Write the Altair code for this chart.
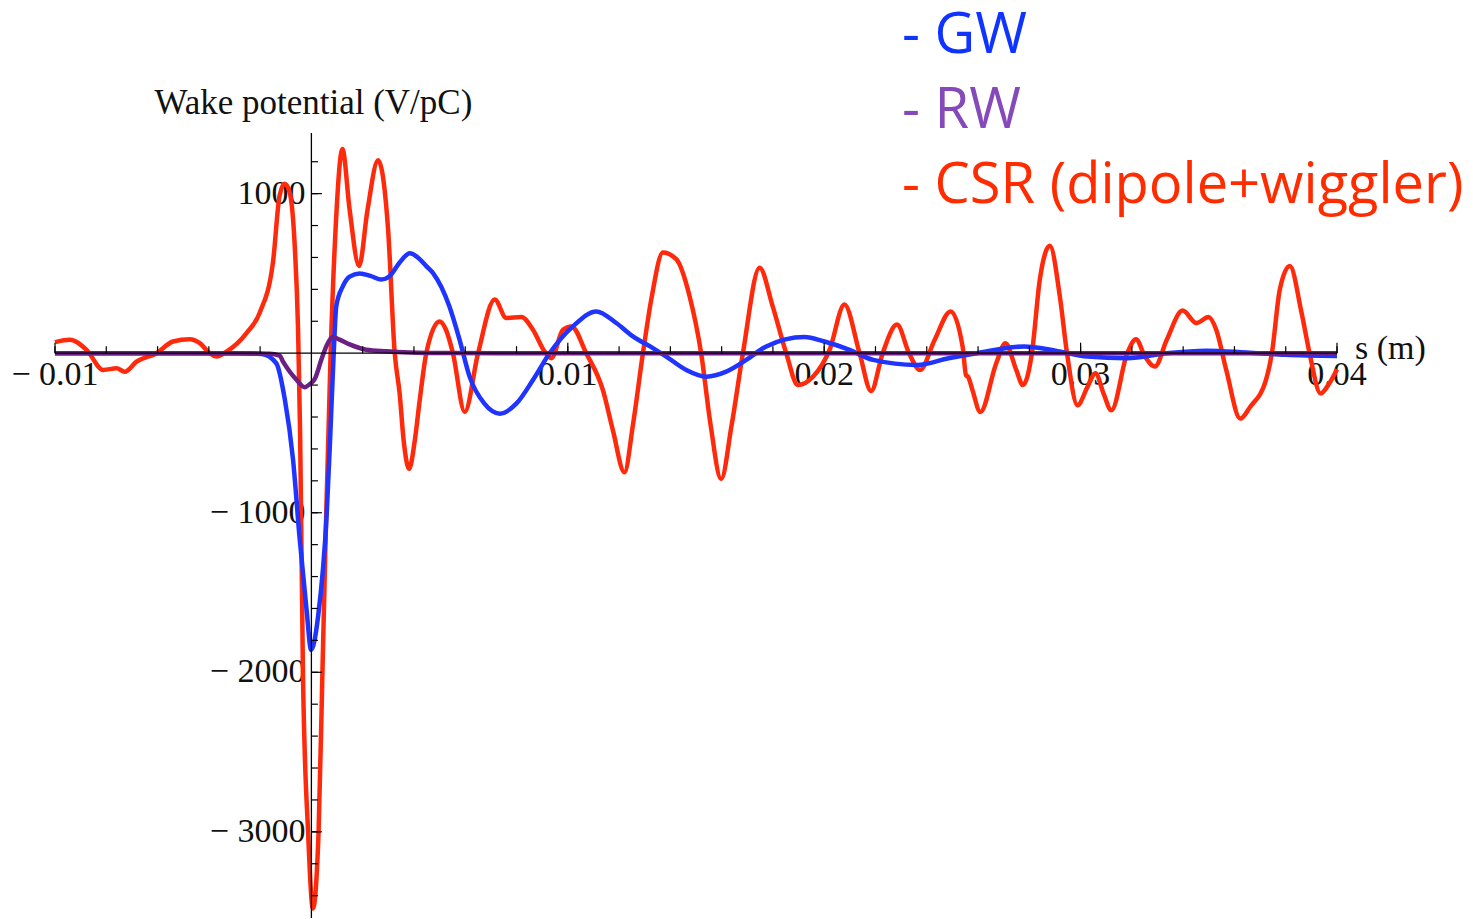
import altair as alt
import pandas as pd
import numpy as np

# Longitudinal wake potentials along the bunch: s in mm, W in V/pC
s_csr_mm = [-10.0, -9.42, -8.77, -8.12, -7.60, -7.28, -6.82, -6.04, -5.40, -4.74,
            -4.35, -3.96, -3.70, -3.31, -2.53, -2.02, -1.50, -1.24, -1.04, -0.85,
            -0.65, -0.52, -0.44, -0.33, -0.13, 0.06, 0.28, 0.43, 0.58, 0.75,
            0.95, 1.21, 1.49, 1.86, 2.19, 2.60, 2.99, 3.25, 3.44, 3.60,
            3.81, 4.03, 4.22, 4.48, 5.00, 5.24, 5.52, 5.98, 6.50, 7.15,
            7.60, 8.19, 8.64, 9.10, 9.36, 9.81, 10.14, 10.72, 11.37, 11.76,
            12.21, 12.54, 12.93, 13.27, 13.71, 14.23, 14.75, 15.20, 15.57, 15.98,
            16.39, 16.83, 17.48, 17.98, 18.52, 18.97, 19.56, 20.21, 20.79, 21.38,
            21.83, 22.28, 22.84, 23.31, 23.74, 24.31, 24.93, 25.40, 25.53, 25.62,
            25.78, 26.09, 26.71, 27.07, 27.49, 27.75, 28.10, 28.41, 28.80, 29.19,
            29.47, 29.88, 30.27, 30.58, 30.89, 31.20, 31.82, 32.16, 32.51, 32.90,
            33.36, 33.98, 34.52, 34.99, 35.29, 35.68, 36.23, 36.61, 37.23, 37.46,
            37.77, 38.16, 38.62, 38.93, 39.36, 39.70, 40.0]
w_csr = [69, 84, 21, -105, -95, -116, -53, 0, 73, 88,
         63, 0, -21, 10, 126, 252, 568, 988, 1062, 1009,
         672, 147, -500, -2000, -3000, -3480, -3000, -2000, -1000, 0,
         800, 1280, 900, 546, 900, 1209, 778, 0, -250, -550,
         -725, -550, -300, 0, 199, 150, 0, -368, 0, 336,
         221, 227, 147, 10, -32, 147, 168, 0, -232, -484,
         -747, -450, 0, 350, 631, 589, 357, 0, -450, -789,
         -450, 0, 536, 300, 0, -200, -148, 21, 305, 0,
         -237, 0, 179, 0, -105, 84, 262, 40, -137, -150,
         -230, -368, -63, 63, -105, -200, 0, 462, 673, 357,
         0, -326, -211, -126, -250, -358, 0, 88, -21, -84,
         84, 267, 189, 227, 147, -105, -410, -337, -168, 0,
         399, 546, 252, 0, -252, -189, -100]

s_gw_mm = [-10.0, -2.80, -1.94, -1.37, -1.04, -0.72, -0.46, -0.19, -0.01, 0.26,
           0.60, 0.74, 0.87, 0.97, 1.23, 1.49, 1.88, 2.30, 2.73, 3.05,
           3.45, 3.84, 4.15, 4.48, 4.73, 5.38, 5.78, 6.17, 6.74, 7.35,
           8.00, 8.64, 9.29, 10.20, 11.11, 11.89, 12.54, 13.32, 13.84, 14.62,
           15.40, 16.18, 16.96, 17.74, 19.23, 20.01, 20.99, 21.91, 23.62, 24.85,
           25.94, 27.79, 29.02, 30.27, 31.82, 33.35, 34.91, 36.47, 37.99, 40.0]
w_gw = [0, 0, -5, -63, -287, -661, -1159, -1607, -1860, -1651,
        -1000, -500, 0, 294, 420, 480, 500, 485, 462, 483,
        570, 626, 600, 546, 505, 294, 84, -147, -315, -379,
        -315, -168, 0, 168, 262, 189, 105, 32, -21, -105,
        -147, -116, -42, 42, 101, 73, 21, -42, -74, -32,
        0, 42, 16, -21, -32, 0, 16, 4, -10, -17]

s_rw_mm = [-10.0, -1.63, -1.24, -1.10, -0.85, -0.59, -0.26, -0.07, 0.13, 0.39,
           0.60, 0.84, 1.10, 1.49, 2.14, 2.92, 3.83, 5.39, 7.34, 40.0]
w_rw = [0, -3, -15, -55, -115, -165, -213, -195, -162, -40,
        50, 101, 85, 55, 22, 12, 5, 1, 0, 0]

# Axis decorations (s in m, W in V/pC)
x_major = [-0.01, 0.01, 0.02, 0.03, 0.04]
x_major_labels = ["\u2212 0.01", "0.01", "0.02", "0.03", "0.04"]
x_minor = [round(float(v), 3) for v in np.arange(-0.01, 0.0401, 0.002) if abs(v) > 1e-9]
y_major = [1000, -1000, -2000, -3000]
y_major_labels = ["1000", "\u2212 1000", "\u2212 2000", "\u2212 3000"]
y_minor = [v for v in range(-3400, 1201, 200) if v != 0]

X_DOMAIN = [-0.01, 0.04]
Y_DOMAIN = [-3540, 1380]

RED = "#ff2a0c"
BLUE = "#1f34ff"
PURPLE = "#6c1f84"
AXIS_FONT = "Liberation Serif"
AXIS_SIZE = 34
INK = "#111111"

xs = alt.Scale(domain=X_DOMAIN, nice=False, zero=False)
ys = alt.Scale(domain=Y_DOMAIN, nice=False, zero=False)


def X(field):
    return alt.X(field, type="quantitative", scale=xs, axis=None)


def Y(field):
    return alt.Y(field, type="quantitative", scale=ys, axis=None)


def curve(s_mm, w, color):
    df = pd.DataFrame({"s": [v / 1000 for v in s_mm], "w": w})
    return alt.Chart(df).mark_line(
        color=color, strokeWidth=4.5, interpolate="monotone"
    ).encode(x=X("s"), y=Y("w"))


csr = curve(s_csr_mm, w_csr, RED)
gw = curve(s_gw_mm, w_gw, BLUE)
rw = curve(s_rw_mm, w_rw, PURPLE)

# Axes through the origin
x_axis_line = alt.Chart(
    pd.DataFrame({"s": [X_DOMAIN[0]], "s2": [X_DOMAIN[1]], "w": [0]})
).mark_rule(color="black", strokeWidth=1.3).encode(
    x=X("s"), x2=alt.X2("s2"), y=Y("w")
)
y_axis_line = alt.Chart(
    pd.DataFrame({"s": [0.0], "w": [Y_DOMAIN[0]], "w2": [Y_DOMAIN[1]]})
).mark_rule(color="black", strokeWidth=1.3).encode(
    x=X("s"), y=Y("w"), y2=alt.Y2("w2")
)


def x_ticks(values, length):
    df = pd.DataFrame({"s": values, "w": [0] * len(values)})
    return alt.Chart(df).mark_rule(
        color="black", strokeWidth=1.2, y2Offset=-length
    ).encode(x=X("s"), y=Y("w"), y2=alt.Y2("w"))


def y_ticks(values, length):
    df = pd.DataFrame({"w": values, "s": [0.0] * len(values)})
    return alt.Chart(df).mark_rule(
        color="black", strokeWidth=1.2, x2Offset=length
    ).encode(y=Y("w"), x=X("s"), x2=alt.X2("s"))


x_minor_ticks = x_ticks(x_minor, 7)
x_major_ticks = x_ticks(x_major, 10.5)
y_minor_ticks = y_ticks(y_minor, 6.5)
y_major_ticks = y_ticks(y_major, 10.5)

x_labels = alt.Chart(
    pd.DataFrame({"s": x_major, "w": [0] * len(x_major), "t": x_major_labels})
).mark_text(
    font=AXIS_FONT, fontSize=AXIS_SIZE, color=INK, align="center", baseline="alphabetic", dy=32
).encode(x=X("s"), y=Y("w"), text="t:N")
y_labels = alt.Chart(
    pd.DataFrame({"w": y_major, "s": [0.0] * len(y_major), "t": y_major_labels})
).mark_text(
    font=AXIS_FONT, fontSize=AXIS_SIZE, color=INK, align="right", baseline="middle", dx=-6
).encode(x=X("s"), y=Y("w"), text="t:N")

y_title = alt.Chart(
    pd.DataFrame({"s": [0.0], "w": [Y_DOMAIN[1]], "t": ["Wake potential (V/pC)"]})
).mark_text(
    font=AXIS_FONT, fontSize=35, color=INK, align="left", baseline="alphabetic", dx=-157, dy=-19
).encode(x=X("s"), y=Y("w"), text="t:N")
x_title = alt.Chart(
    pd.DataFrame({"s": [X_DOMAIN[1]], "w": [0], "t": ["s (m)"]})
).mark_text(
    font=AXIS_FONT, fontSize=AXIS_SIZE, color=INK, align="left", baseline="alphabetic", dx=18, dy=6
).encode(x=X("s"), y=Y("w"), text="t:N")


# Series key in the upper right
def key(label, color, y):
    return alt.Chart(pd.DataFrame({"t": [label]})).mark_text(
        font="Open Sans", fontSize=56, color=color, align="left", baseline="alphabetic"
    ).encode(x=alt.value(847), y=alt.value(y), text="t:N")


key_gw = key("- GW", "#1034ff", -80)
key_rw = key("- RW", "#8649b9", -5)
key_csr = key("- CSR (dipole+wiggler)", "#ff2c00", 70)

chart = alt.layer(
    x_labels, y_labels, y_title, x_title,
    csr, gw, rw,
    x_axis_line, y_axis_line,
    x_minor_ticks, x_major_ticks, y_minor_ticks, y_major_ticks,
    key_gw, key_rw, key_csr,
).properties(
    width=1282,
    height=785,
    padding={"left": 55, "top": 133, "right": 136, "bottom": 1},
    autosize=alt.AutoSizeParams(type="none"),
    background="white",
).configure_view(stroke=None)

chart.save("out.html", embed_options={"renderer": "svg", "actions": False})
